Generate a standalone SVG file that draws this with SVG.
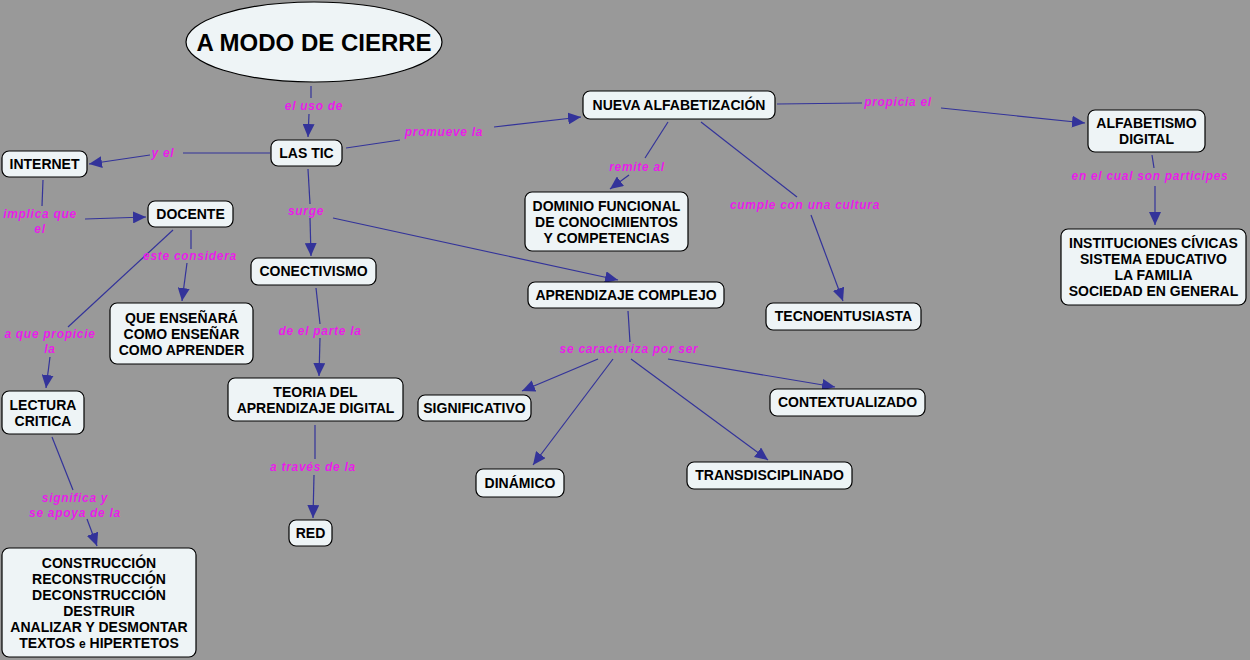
<svg xmlns="http://www.w3.org/2000/svg" width="1250" height="660" viewBox="0 0 1250 660">
<style>
.n{fill:#eef4f6;stroke:#000;stroke-width:1.2}
.t{font-family:"Liberation Sans",Arial,sans-serif;font-weight:bold;font-size:14px;fill:#000;text-anchor:middle}
.l{font-family:"Liberation Sans",Arial,sans-serif;font-weight:bold;font-style:italic;font-size:12px;letter-spacing:0.7px;fill:#e81ee8;text-anchor:middle}
.c{stroke:#33339a;stroke-width:1.2;fill:none}
</style>
<defs>
<marker id="a" markerUnits="userSpaceOnUse" markerWidth="14" markerHeight="12" refX="13" refY="6" orient="auto">
<path d="M0,0 L13,6 L0,12 z" fill="#33339a"/>
</marker>
</defs>
<rect width="1250" height="660" fill="#999999"/>
<g id="connectors">
<path class="c" d="M311,86 L311,98"/>
<path class="c" d="M309,114 L308,137" marker-end="url(#a)"/>
<path class="c" d="M270,153 L183,153"/>
<path class="c" d="M150,155 L89,164" marker-end="url(#a)"/>
<path class="c" d="M346,148 L400,140"/>
<path class="c" d="M494,127 L581,117" marker-end="url(#a)"/>
<path class="c" d="M43,180 L42,206"/>
<path class="c" d="M85,219 L146,217" marker-end="url(#a)"/>
<path class="c" d="M191,230 L191,249"/>
<path class="c" d="M187,263 L182,301" marker-end="url(#a)"/>
<path class="c" d="M173,230 L68,327"/>
<path class="c" d="M50,357 L46,388" marker-end="url(#a)"/>
<path class="c" d="M308,169 L310,204"/>
<path class="c" d="M310,218 L311,256" marker-end="url(#a)"/>
<path class="c" d="M333,218 L618,280" marker-end="url(#a)"/>
<path class="c" d="M316,288 L320,324"/>
<path class="c" d="M320,338 L319,376" marker-end="url(#a)"/>
<path class="c" d="M315,425 L315,459"/>
<path class="c" d="M314,475 L313,518" marker-end="url(#a)"/>
<path class="c" d="M52,437 L73,490"/>
<path class="c" d="M87,519 L97,546" marker-end="url(#a)"/>
<path class="c" d="M668,122 L645,158"/>
<path class="c" d="M629,175 L610,189" marker-end="url(#a)"/>
<path class="c" d="M701,122 L797,197"/>
<path class="c" d="M811,215 L843,301" marker-end="url(#a)"/>
<path class="c" d="M777,104 L862,103"/>
<path class="c" d="M941,108 L1085,123" marker-end="url(#a)"/>
<path class="c" d="M1152,155 L1154,168"/>
<path class="c" d="M1155,186 L1155,225" marker-end="url(#a)"/>
<path class="c" d="M628,311 L630,342"/>
<path class="c" d="M598,359 L522,391" marker-end="url(#a)"/>
<path class="c" d="M613,359 L533,465" marker-end="url(#a)"/>
<path class="c" d="M631,359 L768,460" marker-end="url(#a)"/>
<path class="c" d="M668,359 L835,387" marker-end="url(#a)"/>
</g>
<g id="labels">
<text class="l" x="314" y="110">el uso de</text>
<text class="l" x="163" y="157">y el</text>
<text class="l" x="444" y="136">promueve la</text>
<text class="l" x="40" y="218">implica que</text>
<text class="l" x="40" y="233">el</text>
<text class="l" x="306" y="215">surge</text>
<text class="l" x="190" y="260">este considera</text>
<text class="l" x="50" y="338">a que propicie</text>
<text class="l" x="50" y="353">la</text>
<text class="l" x="320" y="335">de el parte la</text>
<text class="l" x="75" y="502">significa y</text>
<text class="l" x="75" y="517">se apoya de la</text>
<text class="l" x="313" y="471">a través de la</text>
<text class="l" x="637" y="171">remite al</text>
<text class="l" x="805" y="209">cumple con una cultura</text>
<text class="l" x="898" y="106">propicia el</text>
<text class="l" x="1150" y="180">en el cual son participes</text>
<text class="l" x="629" y="353">se caracteriza por ser</text>
</g>
<g id="n-cierre"><ellipse class="n" cx="314" cy="42" rx="128" ry="40"/><text class="t" x="314" y="51" style="font-size:24px">A MODO DE CIERRE</text></g>
<g id="n-lastic"><rect class="n" x="271" y="140" width="71" height="26" rx="7"/><text class="t" x="306.5" y="158">LAS TIC</text></g>
<g id="n-internet"><rect class="n" x="2" y="151" width="85" height="26" rx="7"/><text class="t" x="44.5" y="169">INTERNET</text></g>
<g id="n-docente"><rect class="n" x="148" y="201" width="85" height="26" rx="7"/><text class="t" x="190.5" y="219">DOCENTE</text></g>
<g id="n-que"><rect class="n" x="110" y="303" width="143" height="61" rx="7"/><text class="t" x="181.5" y="323">QUE ENSEÑARÁ<tspan x="181.5" dy="16">COMO ENSEÑAR</tspan><tspan x="181.5" dy="16">COMO APRENDER</tspan></text></g>
<g id="n-lectura"><rect class="n" x="2" y="391" width="82" height="43" rx="7"/><text class="t" x="43" y="410">LECTURA<tspan x="43" dy="16">CRITICA</tspan></text></g>
<g id="n-construccion"><rect class="n" x="2" y="548" width="194" height="109" rx="7"/><text class="t" x="99" y="568">CONSTRUCCIÓN<tspan x="99" dy="16">RECONSTRUCCIÓN</tspan><tspan x="99" dy="16">DECONSTRUCCIÓN</tspan><tspan x="99" dy="16">DESTRUIR</tspan><tspan x="99" dy="16">ANALIZAR Y DESMONTAR</tspan><tspan x="99" dy="16">TEXTOS <tspan style="font-size:12px">e</tspan> HIPERTETOS</tspan></text></g>
<g id="n-conectivismo"><rect class="n" x="251" y="258" width="125" height="27" rx="7"/><text class="t" x="313.5" y="276">CONECTIVISMO</text></g>
<g id="n-teoria"><rect class="n" x="228" y="378" width="175" height="43" rx="7"/><text class="t" x="315.5" y="397">TEORIA DEL<tspan x="315.5" dy="16">APRENDIZAJE DIGITAL</tspan></text></g>
<g id="n-red"><rect class="n" x="289" y="520" width="43" height="26" rx="7"/><text class="t" x="310.5" y="538">RED</text></g>
<g id="n-nueva"><rect class="n" x="583" y="91" width="192" height="28" rx="7"/><text class="t" x="679" y="110">NUEVA ALFABETIZACIÓN</text></g>
<g id="n-dominio"><rect class="n" x="525" y="192" width="163" height="59" rx="7"/><text class="t" x="606.5" y="211">DOMINIO FUNCIONAL<tspan x="606.5" dy="16">DE CONOCIMIENTOS</tspan><tspan x="606.5" dy="16">Y COMPETENCIAS</tspan></text></g>
<g id="n-complejo"><rect class="n" x="528" y="282" width="196" height="26" rx="7"/><text class="t" x="626" y="300">APRENDIZAJE COMPLEJO</text></g>
<g id="n-tecno"><rect class="n" x="766" y="303" width="155" height="27" rx="7"/><text class="t" x="843.5" y="321">TECNOENTUSIASTA</text></g>
<g id="n-alfabetismo"><rect class="n" x="1088" y="110" width="117" height="42" rx="7"/><text class="t" x="1146.5" y="128">ALFABETISMO<tspan x="1146.5" dy="16">DIGITAL</tspan></text></g>
<g id="n-instituciones"><rect class="n" x="1061" y="229" width="185" height="76" rx="7"/><text class="t" x="1153.5" y="248">INSTITUCIONES CÍVICAS<tspan x="1153.5" dy="16">SISTEMA EDUCATIVO</tspan><tspan x="1153.5" dy="16">LA FAMILIA</tspan><tspan x="1153.5" dy="16">SOCIEDAD EN GENERAL</tspan></text></g>
<g id="n-significativo"><rect class="n" x="418" y="395" width="113" height="26" rx="7"/><text class="t" x="474.5" y="413">SIGNIFICATIVO</text></g>
<g id="n-dinamico"><rect class="n" x="476" y="469" width="88" height="28" rx="7"/><text class="t" x="520" y="488">DINÁMICO</text></g>
<g id="n-trans"><rect class="n" x="687" y="462" width="165" height="27" rx="7"/><text class="t" x="769.5" y="480">TRANSDISCIPLINADO</text></g>
<g id="n-contexto"><rect class="n" x="770" y="389" width="155" height="27" rx="7"/><text class="t" x="847.5" y="407">CONTEXTUALIZADO</text></g>
</svg>
